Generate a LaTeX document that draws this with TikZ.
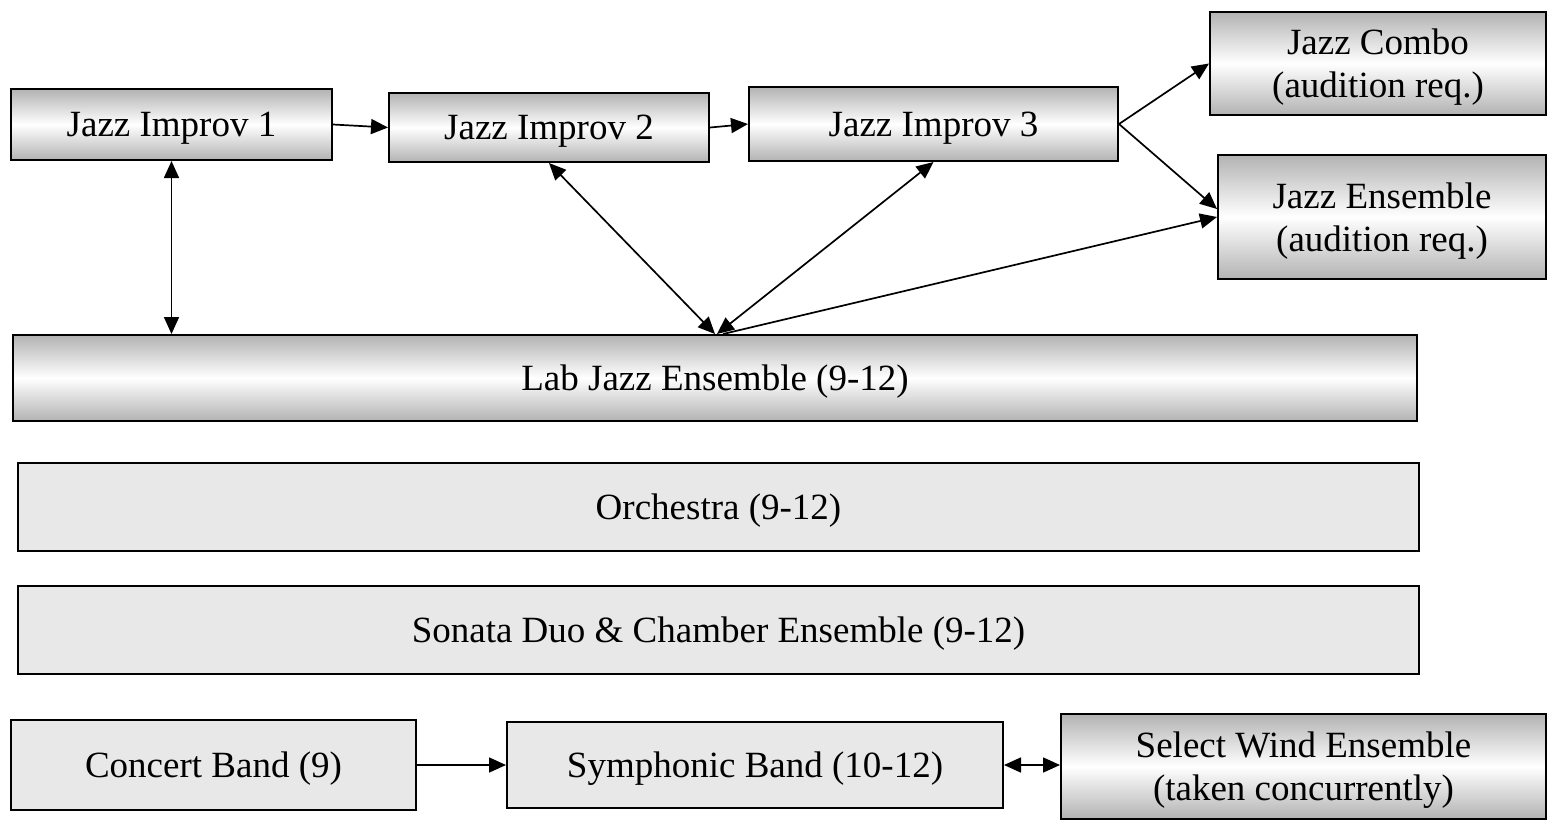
\documentclass[tikz,border=0pt]{standalone}
\usepackage{fontspec}
\setmainfont{Liberation Serif}
\usetikzlibrary{arrows.meta}

\tikzset{
  jazzbox/.style={draw=black, line width=1pt, top color=black!30, bottom color=black!30, middle color=white, align=center, inner sep=0pt, text depth=0pt},
  bandbox/.style={draw=black, line width=1pt, fill=black!9, align=center, inner sep=0pt, text depth=0pt},
  link/.style={line width=0.85pt, -{Triangle[length=8.5pt,width=7.5pt]}},
  twolink/.style={line width=0.85pt, {Triangle[length=8.5pt,width=7.5pt]}-{Triangle[length=8.5pt,width=7.5pt]}}
}

\begin{document}
\begin{tikzpicture}[x=0.5pt, y=-0.5pt, font=\fontsize{18.5}{21.5}\selectfont]
\useasboundingbox (0,0) rectangle (1547,820);

% jazz courses
\node[jazzbox, minimum width=160.5pt, minimum height=35.5pt] (ji1) at (171.5,124.5) {Jazz Improv 1};
\node[jazzbox, minimum width=160pt, minimum height=34.5pt] (ji2) at (549,127.5) {Jazz Improv 2};
\node[jazzbox, minimum width=184.5pt, minimum height=37pt] (ji3) at (933.5,124) {Jazz Improv 3};
\node[jazzbox, minimum width=168pt, minimum height=51.5pt] (combo) at (1378,63.5) {Jazz Combo\\(audition req.)};
\node[jazzbox, minimum width=164pt, minimum height=62pt] (ens) at (1382,217) {Jazz Ensemble\\(audition req.)};
\node[jazzbox, minimum width=702pt, minimum height=43pt] (lab) at (715,378) {Lab Jazz Ensemble (9-12)};

% strings and bands
\node[bandbox, minimum width=700.5pt, minimum height=44pt] (orch) at (718.5,507) {Orchestra (9-12)};
\node[bandbox, minimum width=700.5pt, minimum height=44pt] (sonata) at (718.5,630) {Sonata Duo \& Chamber Ensemble (9-12)};
\node[bandbox, minimum width=202.5pt, minimum height=45pt] (concert) at (213.5,765) {Concert Band (9)};
\node[bandbox, minimum width=248pt, minimum height=43pt] (symph) at (755,765) {Symphonic Band (10-12)};
\node[jazzbox, minimum width=242.5pt, minimum height=52.5pt] (wind) at (1303.5,766.5) {Select Wind Ensemble\\(taken concurrently)};

% arrows
\draw[link] (ji1.east) -- (ji2.west);
\draw[link] (ji2.east) -- (ji3.west);
\draw[link] (ji3.east) -- (combo.west);
\draw[link] (ji3.east) -- ([yshift=4pt]ens.west);
\draw[twolink] (ji1.south) -- (ji1.south |- lab.north);
\draw[twolink] (ji2.south) -- (lab.north);
\draw[twolink] (ji3.south) -- ([xshift=1pt]lab.north);
\draw[link] ([xshift=4pt]lab.north) -- (ens.west);
\draw[link] (concert.east) -- (symph.west);
\draw[twolink] (symph.east) -- (symph.east -| wind.west);
\end{tikzpicture}
\end{document}
